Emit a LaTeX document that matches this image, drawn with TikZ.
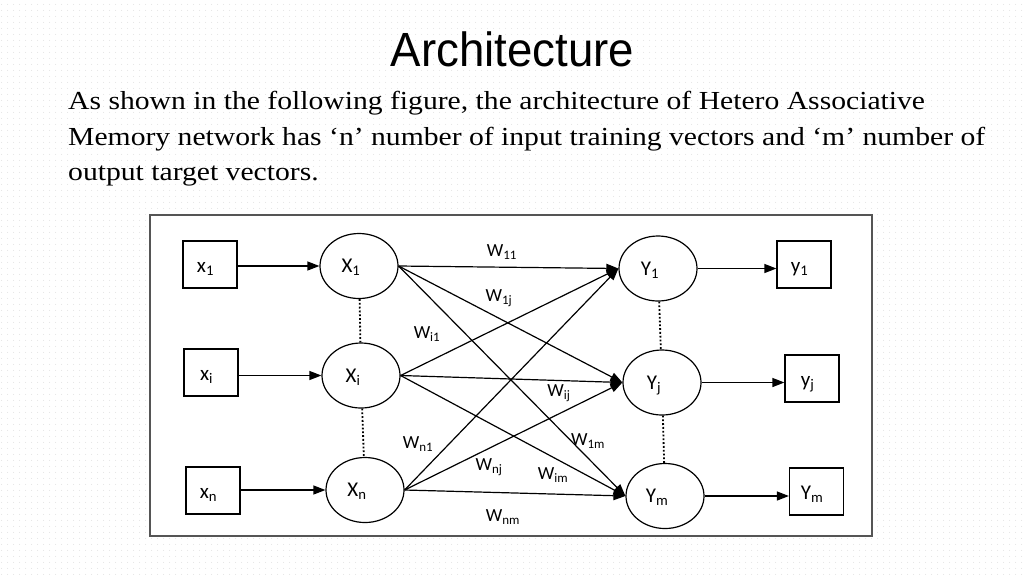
\documentclass[tikz,border=0pt]{standalone}
\usepackage{fontspec}
\setmainfont{Liberation Serif}
\newfontfamily\bodyfont{Liberation Serif}[FakeStretch=1.14]
\newfontfamily\titlefont{Liberation Sans}[FakeStretch=0.95]
\newfontfamily\netfont{Carlito}
\usetikzlibrary{arrows.meta,shapes.geometric,patterns}
\definecolor{framegray}{HTML}{555555}
\pgfdeclarepatternformonly{bgdots}{\pgfpointorigin}{\pgfpoint{6pt}{6pt}}{\pgfpoint{6pt}{6pt}}%
{\pgfpathcircle{\pgfpoint{3pt}{3pt}}{0.55pt}\pgfusepath{fill}}
\tikzset{
  unitbox/.style={draw, rectangle, line width=1.2pt, minimum width=54pt, minimum height=47pt,
    text height=15pt, text depth=0pt, execute at end node=\hspace*{9pt},
    font=\netfont\fontsize{21pt}{21pt}\selectfont},
  neuron/.style={draw, ellipse, line width=1.2pt, minimum width=78pt, minimum height=65pt,
    inner sep=0pt, text depth=0pt, execute at end node=\hspace*{16pt},
    font=\netfont\fontsize{21pt}{21pt}\selectfont},
  link/.style={line width=1.2pt, -{Triangle[length=12pt,width=9pt]}},
  dots/.style={dotted, line width=1.8pt},
  weight/.style={font=\netfont\fontsize{18.5pt}{18.5pt}\selectfont, inner sep=1pt},
  textline/.style={anchor=base west, inner sep=0pt, font=\bodyfont\fontsize{26pt}{26pt}\selectfont},
}

\begin{document}
\begin{tikzpicture}[x=1pt, y=-1pt]%
\useasboundingbox (0,0) rectangle (1024,576);%
\fill[pattern=bgdots, pattern color=black!13] (0,0) rectangle (1024,576);%
% heading and text
\node[anchor=base, inner sep=0pt, font=\titlefont\fontsize{48pt}{48pt}\selectfont] (title) at (512.5, 66.7) {Architecture};%
\node[textline] (line1) at (68, 109.3) {As shown in the following figure, the architecture of Hetero Associative};%
\node[textline] (line2) at (68, 145) {Memory network has ‘n’ number of input training vectors and ‘m’ number of};%
\node[textline] (line3) at (68, 180.5) {output target vectors.};%
% frame
\draw[framegray, line width=2pt, fill=white] (150, 215) rectangle (872, 536);%
% input units
\node[unitbox] (x1) at (210, 264.5) {x\textsubscript{1}};%
\node[unitbox] (xi) at (211, 372.5) {x\textsubscript{i}};%
\node[unitbox] (xn) at (213, 490.5) {x\textsubscript{n}};%
\node[neuron] (X1) at (359, 266) {X\textsubscript{1}};%
\node[neuron] (Xi) at (361, 375.5) {X\textsubscript{i}};%
\node[neuron] (Xn) at (365, 490) {X\textsubscript{n}};%
% output units
\node[neuron] (Y1) at (658, 268.5) {Y\textsubscript{1}};%
\node[neuron] (Yj) at (662, 382.5) {Y\textsubscript{j}};%
\node[neuron] (Ym) at (665, 496) {Y\textsubscript{m}};%
\node[unitbox] (y1) at (804, 264.5) {y\textsubscript{1}};%
\node[unitbox] (yj) at (812, 378.5) {y\textsubscript{j}};%
\node[unitbox] (ym) at (816.5, 491.5) {Y\textsubscript{m}};%
% connections
\draw[link] (x1.east |- X1.west) -- (X1.west);%
\draw[link] (xi.east |- Xi.west) -- (Xi.west);%
\draw[link] (xn.east |- Xn.west) -- (Xn.west);%
\draw[link] (Y1.east) -- (Y1.east -| y1.west);%
\draw[link] (Yj.east) -- (Yj.east -| yj.west);%
\draw[link] (Ym.east) -- (Ym.east -| ym.west);%
\foreach \a in {X1, Xi, Xn}{%
  \foreach \b in {Y1, Yj, Ym}{%
    \draw[link] (\a.east) -- (\b.west);%
  }%
}%
\draw[dots] (X1) -- (Xi);%
\draw[dots] (Xi) -- (Xn);%
\draw[dots] (Y1) -- (Yj);%
\draw[dots] (Yj) -- (Ym);%
% weights
\node[weight] (w11) at (502, 252) {W\textsubscript{11}};%
\node[weight] (w1j) at (499, 298) {W\textsubscript{1j}};%
\node[weight] (wi1) at (427, 334) {W\textsubscript{i1}};%
\node[weight] (wij) at (559, 393) {W\textsubscript{ij}};%
\node[weight] (w1m) at (588, 441) {W\textsubscript{1m}};%
\node[weight] (wn1) at (418, 444) {W\textsubscript{n1}};%
\node[weight] (wnj) at (489, 467) {W\textsubscript{nj}};%
\node[weight] (wim) at (553, 475) {W\textsubscript{im}};%
\node[weight] (wnm) at (503, 517) {W\textsubscript{nm}};%
\end{tikzpicture}
\end{document}
